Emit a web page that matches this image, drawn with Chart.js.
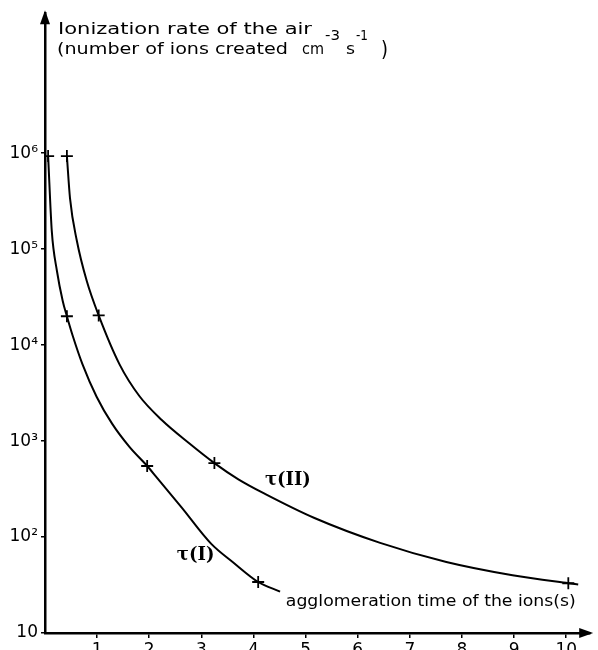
<!DOCTYPE html>
<html>
<head>
<meta charset="utf-8">
<script src="https://cdn.jsdelivr.net/npm/chart.js@4"></script>
<style>
  body { margin: 0; background: #fff; }
  canvas { display: block; }
</style>
</head>
<body>
<canvas id="ionChart" width="598" height="650"></canvas>
<script>
// values (x in s, y in ions cm^-3 s^-1)
const tau1X = [0.06, 0.13, 0.23, 0.34, 0.42, 0.53, 0.72, 0.99, 1.29, 1.62, 1.96, 2.13, 2.62, 3.19, 3.6, 4.09, 4.51];
const tau1Y = [933000, 155000, 58900, 28800, 20000, 12600, 6300, 2900, 1510, 870, 550, 427, 204, 85, 55, 34, 27];
const tau2X = [0.42, 0.48, 0.61, 0.80, 1.03, 1.43, 1.81, 2.24, 2.76, 3.25, 3.71, 4.22, 5.17, 6.43, 7.70, 8.97, 10.04, 10.23];
const tau2Y = [933000, 339000, 123000, 46800, 20400, 6300, 2950, 1660, 955, 590, 400, 282, 158, 87, 55, 40, 33, 32];
// the measured points marked with crosses
const cross1X = [0.06, 0.42, 1.96, 4.09];
const cross1Y = [933000, 20000, 550, 34];
const cross2X = [0.42, 1.03, 3.25, 10.04];
const cross2Y = [933000, 20400, 590, 33];

const yTickValues = [10, 100, 1000, 10000, 100000, 1000000];
const yTickLabels = ['10', '10²', '10³', '10⁴', '10⁵', '10⁶'];
const xTickValues = [1, 2, 3, 4, 5, 6, 7, 8, 9, 10];

function toPoints(xs, ys) {
    return xs.map((x, i) => ({ x: x, y: ys[i] }));
}

// stretch or squeeze a string so it covers the same width as in the drawing
function fitText(ctx, text, x, y, w, font) {
    ctx.font = font;
    const m = ctx.measureText(text).width;
    ctx.save();
    ctx.translate(x, y);
    ctx.scale(w / m, 1);
    ctx.fillText(text, 0, 0);
    ctx.restore();
}

const annotate = {
    id: 'annotate',
    afterDraw(chart) {
        const ctx = chart.ctx;
        const a = chart.chartArea;
        const xs = chart.scales.x;
        const ys = chart.scales.y;
        ctx.save();
        ctx.fillStyle = '#000';
        // arrow heads on both axes
        ctx.beginPath();
        ctx.moveTo(a.left, a.top - 3);
        ctx.lineTo(a.left - 5, a.top + 11);
        ctx.lineTo(a.left + 5, a.top + 11);
        ctx.closePath();
        ctx.fill();
        ctx.beginPath();
        ctx.moveTo(a.right + 3, a.bottom);
        ctx.lineTo(a.right - 11, a.bottom - 5);
        ctx.lineTo(a.right - 11, a.bottom + 5);
        ctx.closePath();
        ctx.fill();

        ctx.textBaseline = 'alphabetic';
        ctx.textAlign = 'left';
        // y axis title
        fitText(ctx, 'Ionization rate of the air', 58, 34, 254, '16px "DejaVu Sans"');
        fitText(ctx, '(number of ions created', 57, 54, 231, '16px "DejaVu Sans"');
        fitText(ctx, 'cm', 302, 54, 22, '16px "DejaVu Sans"');
        fitText(ctx, '-3', 325, 40, 15, '14px "DejaVu Sans"');
        fitText(ctx, 's', 346, 54, 9, '16px "DejaVu Sans"');
        fitText(ctx, '-1', 356, 40, 12, '14px "DejaVu Sans"');
        fitText(ctx, ')', 381, 56, 7, '22px "DejaVu Sans"');

        // x axis title
        fitText(ctx, 'agglomeration time of the ions(s)', xs.getPixelForValue(4.62), ys.getPixelForValue(19), 290, '16px "DejaVu Sans"');

        // curve names
        ctx.textAlign = 'center';
        ctx.textBaseline = 'middle';
        ctx.font = 'bold 18px "DejaVu Serif"';
        ctx.fillText('τ(I)', xs.getPixelForValue(2.89), ys.getPixelForValue(65));
        ctx.fillText('τ(II)', xs.getPixelForValue(4.66), ys.getPixelForValue(390));
        ctx.restore();
    }
};

document.addEventListener('DOMContentLoaded', function () {
    const ctx = document.getElementById('ionChart').getContext('2d');
    const lineStyle = {
        borderColor: '#000',
        borderWidth: 2,
        pointRadius: 0,
        cubicInterpolationMode: 'monotone',
        fill: false
    };
    const crossStyle = {
        showLine: false,
        pointStyle: 'cross',
        pointRadius: 6,
        borderColor: '#000',
        borderWidth: 1.8
    };
    const config = {
        type: 'line',
        data: {
            datasets: [
                Object.assign({ label: 'τ(I)', data: toPoints(tau1X, tau1Y) }, lineStyle),
                Object.assign({ label: 'τ(II)', data: toPoints(tau2X, tau2Y) }, lineStyle),
                Object.assign({ label: 'τ(I) points', data: toPoints(cross1X, cross1Y) }, crossStyle),
                Object.assign({ label: 'τ(II) points', data: toPoints(cross2X, cross2Y) }, crossStyle)
            ]
        },
        options: {
            responsive: false,
            animation: false,
            layout: { padding: { top: 12, right: 3, left: 0, bottom: 0 } },
            plugins: {
                legend: { display: false },
                tooltip: { enabled: false }
            },
            scales: {
                x: {
                    type: 'linear',
                    min: 0,
                    max: 10.46,
                    afterBuildTicks: (scale) => { scale.ticks = xTickValues.map(v => ({ value: v })); },
                    afterFit: (scale) => { scale.height = 17; },
                    border: { color: '#000', width: 2.5 },
                    grid: { drawOnChartArea: false, color: '#000', lineWidth: 1.5, tickLength: 5 },
                    ticks: {
                        color: '#000',
                        padding: 2,
                        maxRotation: 0,
                        font: { family: '"DejaVu Sans"', size: 17 }
                    }
                },
                y: {
                    type: 'logarithmic',
                    min: 10,
                    max: 28800000,
                    afterBuildTicks: (scale) => { scale.ticks = yTickValues.map(v => ({ value: v })); },
                    afterFit: (scale) => { scale.width = 45; },
                    border: { color: '#000', width: 2.5 },
                    grid: { drawOnChartArea: false, color: '#000', lineWidth: 1.5, tickLength: 4 },
                    ticks: {
                        color: '#000',
                        padding: 3,
                        font: { family: '"DejaVu Sans"', size: 17 },
                        callback: (value) => {
                            const i = yTickValues.indexOf(value);
                            return i >= 0 ? yTickLabels[i] : '';
                        }
                    }
                }
            }
        },
        plugins: [annotate]
    };
    new Chart(ctx, config);
});
</script>
</body>
</html>
